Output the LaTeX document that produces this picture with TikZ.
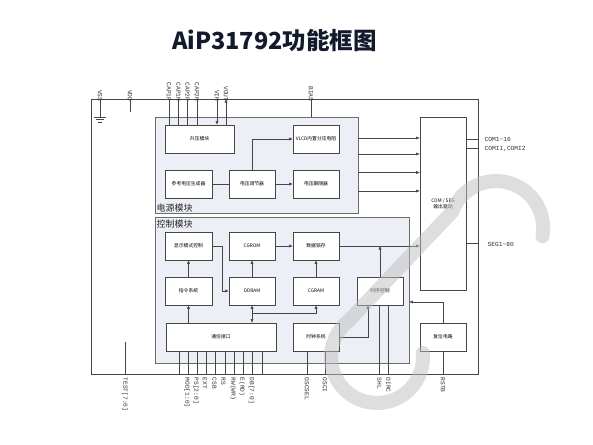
\documentclass[tikz,border=0pt]{standalone}
\usepackage{fontspec}
\setmainfont{Liberation Serif}
\newfontfamily\cjk{Noto Sans CJK SC}
\newfontfamily\pinfont{Liberation Mono}
\usetikzlibrary{arrows.meta}
\definecolor{modfill}{RGB}{236,239,246}
\definecolor{linec}{RGB}{70,70,70}
\definecolor{titlec}{RGB}{18,26,44}
\definecolor{wmark}{RGB}{190,190,190}
\begin{document}
\begin{tikzpicture}[x=1pt,y=-1pt,
 wire/.style={draw=linec, line width=0.6pt},
 arr/.style={wire, -{Triangle[length=3.6pt,width=2.8pt]}},
 barr/.style={wire, {Triangle[length=3.6pt,width=2.8pt]}-{Triangle[length=3.6pt,width=2.8pt]}},
 blk/.style={draw=linec, line width=0.7pt, fill=white, inner sep=0pt, minimum width=46pt, minimum height=28pt, align=center, font=\cjk\fontsize{4.8}{6}\selectfont},
 module/.style={draw=linec!80, line width=0.7pt, fill=modfill, inner sep=0pt},
 pin/.style={font=\pinfont\fontsize{6.2}{6.2}\selectfont, inner sep=0.5pt, text=black!80},
 modlbl/.style={font=\cjk\fontsize{9}{9}\selectfont, inner sep=0pt, text=black!85},
 wm/.style={draw=wmark, line width=14pt, line cap=round, opacity=0.5},
]
\useasboundingbox (0,0) rectangle (593,444);
\fill[white] (0,0) rectangle (593,444);

% title
\node[font=\cjk\bfseries\fontsize{23.5}{24}\selectfont, text=titlec] (title) at (274.5,41) {AiP31792功能框图};

% chip frame
\node[draw=linec, line width=0.8pt, minimum width=387pt, minimum height=275pt, inner sep=0pt] (chip) at (284.5,236.5) {};

% modules
\node[module, minimum width=203pt, minimum height=96pt] (pwr) at (256.5,165) {};
\node[module, minimum width=254pt, minimum height=146pt] (ctl) at (282,290) {};
\node[modlbl, anchor=base west] (pwrlbl) at (156.5,211.5) {电源模块};
\node[modlbl, anchor=base west] (ctllbl) at (156.5,227) {控制模块};

% power blocks
\node[blk, minimum width=69pt] (boost) at (199.5,139) {升压模块};
\node[blk] (vlcd) at (316,139) {VLCD内置分压电阻};
\node[blk, minimum width=47pt] (ref) at (188.5,184) {参考电压生成器};
\node[blk] (reg) at (252,184) {电压调节器};
\node[blk] (fol) at (316,184) {电压跟随器};

% control blocks
\node[blk, minimum width=47pt] (disp) at (188.5,246) {显示模式控制};
\node[blk] (cgrom) at (252,246) {CGROM};
\node[blk] (latch) at (316,246) {数据锁存};
\node[blk, minimum width=47pt] (cmd) at (188.5,291) {指令系统};
\node[blk] (ddram) at (252,291) {DDRAM};
\node[blk] (cgram) at (316,291) {CGRAM};
\node[blk] (tim) at (380,291) {时序控制};
\node[blk, minimum width=110pt] (comm) at (221,337) {通信接口};
\node[blk] (clk) at (316,337) {时钟系统};
\node[blk] (rst) at (443,337) {复位电路};
\node[blk, minimum height=173pt] (drv) at (443,203.5) {COM / SEG\\输出驱动};

% ---------- top pins ----------
\coordinate (pVSS) at (100,99);
\coordinate (pVDD) at (130,99);
\coordinate (pC1P) at (169,99);
\coordinate (pC1N) at (178.5,99);
\coordinate (pC2P) at (187.5,99);
\coordinate (pC2N) at (197,99);
\coordinate (pVIN) at (217,99);
\coordinate (pVOUT) at (226,99);
\coordinate (pBIAS) at (311,99);
\coordinate (gnd) at (100,117);
\coordinate (vddend) at (130,112);

\draw[wire] (pVSS) -- (gnd);
\draw[wire] ([xshift=-6pt]gnd) -- ([xshift=6pt]gnd);
\draw[wire] ([xshift=-4pt,yshift=-2.5pt]gnd) -- ([xshift=4pt,yshift=-2.5pt]gnd);
\draw[wire] ([xshift=-2pt,yshift=-5pt]gnd) -- ([xshift=2pt,yshift=-5pt]gnd);
\draw[wire] (pVDD) -- (vddend);
\foreach \p in {pC1P,pC1N,pC2P,pC2N}{\draw[wire] (\p) -- (\p |- boost.north);}
\draw[arr] (pVIN) -- (pVIN |- boost.north);
\draw[arr] (pVOUT |- boost.north) -- (pVOUT);
\draw[wire] (pBIAS) -- (pBIAS |- pwr.north);

\foreach \p/\t in {pVSS/VSS,pVDD/VDD,pC1P/CAP1P,pC1N/CAP1N,pC2P/CAP2P,pC2N/CAP2N,pVIN/VIN,pVOUT/VOUT,pBIAS/BIAS}{
  \node[pin, rotate=-90, anchor=east] at ([yshift=-3pt]\p) {\t};}

% ---------- power connections ----------
\draw[wire] (ref) -- (reg);
\draw[arr] (reg) -- (fol);
\draw[arr] (reg.north) |- (vlcd.west);
\foreach \yy in {138,154,172.5,191}{
  \draw[arr] (pwr.east |- 0,\yy) -- (drv.west |- 0,\yy);}

% ---------- control connections ----------
\draw[arr] (disp.east) -- ++(10pt,0) |- (ddram.west);
\draw[arr] (cgrom) -- (latch);
\draw[arr] (latch.east) -- (drv.west |- latch.east);
\draw[arr] (cmd) -- (disp);
\draw[arr] (ddram) -- (cgrom);
\draw[arr] (cgram) -- (latch);
\draw[arr] (tim.north) -- (tim.north |- latch.east);
\draw[arr] (comm.north -| cmd) -- (cmd.south);
\draw[barr] (ddram.south) -- (comm.north -| ddram);
\draw[arr] (ddram.south |- 0,313) -| (cgram.south);
\draw[arr] (clk.east) -| ([xshift=-12pt]tim.south);
\draw[arr] (rst.north) |- (ctl.east |- 0,302);

% ---------- outputs ----------
\draw[wire] (drv.east |- 0,139) -- (chip.east |- 0,139);
\draw[wire] (drv.east |- 0,148) -- (chip.east |- 0,148);
\draw[wire] (drv.east |- 0,243) -- (chip.east |- 0,243);
\node[pin, anchor=west] (com1) at (484,139.5) {COM1\textasciitilde16};
\node[pin, anchor=west] (com2) at (484,148.5) {COMI1,COMI2};
\node[pin, anchor=west] (seg) at (487,244) {SEG1\textasciitilde80};

% ---------- bottom pins ----------
\coordinate (pTEST) at (125,374);
\draw[wire] (125,342) -- (pTEST);
\foreach \xx in {179,188,197,206.5,215.5,225,234,243,252.5,262}{
  \draw[wire] (comm.south -| \xx,0) -- (chip.south -| \xx,0);}
\coordinate (pOSCSEL) at (307,374);
\coordinate (pOSCI) at (325,374);
\draw[wire] (clk.south -| pOSCSEL) -- (pOSCSEL);
\draw[wire] (clk.south -| pOSCI) -- (pOSCI);
\coordinate (pSHL) at (379.5,374);
\coordinate (pDIRC) at (388.5,374);
\draw[wire] (tim.south -| pSHL) -- (pSHL);
\draw[wire] (tim.south -| pDIRC) -- (pDIRC);
\coordinate (pRSTB) at (443,374);
\draw[wire] (rst.south) -- (pRSTB);

\foreach \xx/\t in {125/{TEST[7:0]},187/{MOD[1:0]},196/{PS[2:0]},205/EXT,214.5/CSB,223.5/RS,233/{RW(WR)},242/{E(RD)},251.5/{DB[7:0]},307/OSCSEL,325/OSCI,379.5/SHL,388.5/DIRC,443/RSTB}{
  \node[pin, rotate=-90, anchor=west] at (\xx,377) {\t};}

% ---------- watermark (light grey logo) ----------
\draw[wm] (377,357) ++(-5:46) arc[start angle=-5, end angle=232, radius=46] -- (452,212)
  arc[start angle=200, end angle=370, radius=47];
\end{tikzpicture}
\end{document}
